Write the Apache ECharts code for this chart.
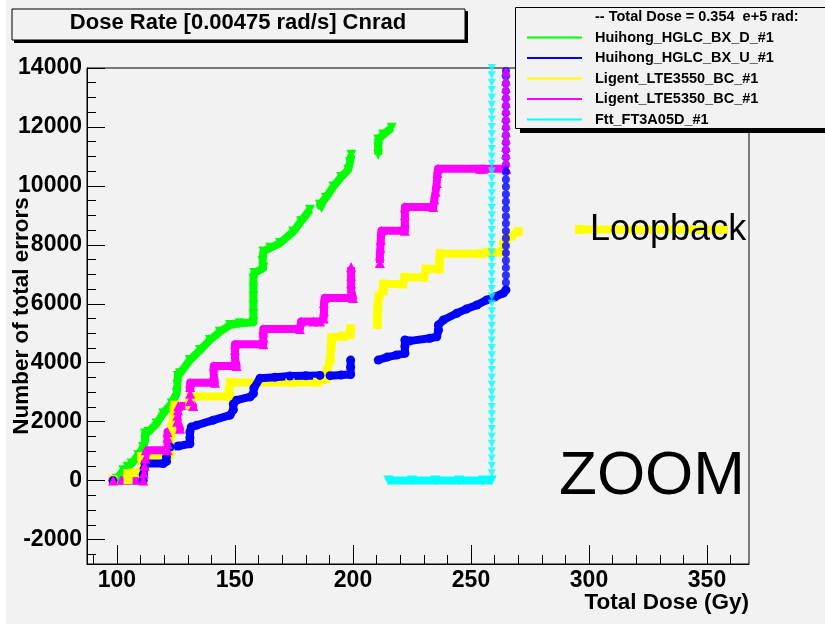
<!DOCTYPE html>
<html><head><meta charset="utf-8">
<script src="https://cdn.jsdelivr.net/npm/echarts@6.0.0/dist/echarts.min.js"></script>
<style>html,body{margin:0;padding:0;background:#fff;} #c{width:825px;height:624px;}</style>
</head><body><div id="c"></div>
<script>
// ---- data (x = Total Dose in Gy, y = Number of total errors) ----
const seriesNames = ['Huihong_HGLC_BX_D_#1','Huihong_HGLC_BX_U_#1','Ligent_LTE3550_BC_#1','Ligent_LTE5350_BC_#1','Ftt_FT3A05D_#1'];
const seriesColors = ['#00ff00','#0000ff','#ffff00','#ff00ff','#00ffff'];

const huihongD = [[100,60],[102.7,350],[104.5,470],[106.2,580],[109,860],[111.1,1140],[111.9,1350],[111.9,1600],[113.3,1650],[116.8,1940],[119.6,2280],[123.2,2620],[125.3,2960],[125.6,3250],[125.8,3550],[126.7,3640],[130.9,4090],[135.2,4430],[139.4,4770],[143.6,5050],[147.9,5280],[152,5340],[157.8,5370],[157.8,5650],[157.8,5950],[157.8,6250],[157.8,6550],[157.8,6850],[158.2,7040],[162,7210],[161.7,7450],[162,7770],[165,7900],[169.1,8060],[174.7,8450],[178,8800],[181.8,9190],[184,'-'],[186.7,9250],[186,9360],[188.5,9600],[191.7,9980],[195,10300],[198,10550],[198.7,10800],[199.3,11060],[205,'-'],[210.7,11060],[210.7,11300],[210.7,11570],[212.8,11740],[216.4,11970]];

const huihongU = [[98.3,0],[111.1,0],[111.1,200],[111.5,400],[111.9,580],[119.6,580],[121,650],[121,800],[122.5,1140],[126,1170],[130.9,1250],[130.9,1450],[130.9,1650],[131.5,1820],[133.8,1880],[140.8,2050],[147.9,2220],[149.3,2400],[149.3,2600],[150.7,2730],[156.4,2840],[157.8,2950],[158,3140],[160.6,3470],[167,3510],[173.3,3550],[180,3560],[186,3570],[190.3,3560],[195,3580],[199,3600],[199,3850],[199,4090],[205,'-'],[210.7,4090],[214.5,4190],[218.5,4260],[222,4320],[222,4550],[222,4770],[224.2,4740],[232.6,4830],[235.5,4880],[236.2,5100],[236.2,5280],[238.3,5450],[244,5680],[248,5820],[252.5,5960],[256.7,6130],[260,6230],[263.7,6360],[264.8,6470]];
const huihongUStackX = 264.8;
const huihongUStackY = [6720,6970,7220,7470,7720,7970,8220,8470,8720,8970,9220,9470,9720,9970,10220,10470,10720,10970,11220,11470,11720,11970,12220,12470,12720,12970,13220,13470,13720,13900];

const ligent3550 = [[98.3,30],[104.7,30],[104.7,240],[107.6,270],[110.5,270],[111,490],[111,630],[110.4,815],[121.7,815],[122.4,930],[122.4,1150],[122.4,1370],[123.2,1600],[123.2,1820],[124,2100],[124.2,2390],[124.6,2560],[130.9,2560],[131,2850],[147.9,2850],[147.5,3050],[148,3330],[173.3,3330],[185,3340],[188.5,3450],[189,3700],[190.3,4100],[190.8,4550],[191,4850],[196,4900],[198.7,4950],[199,5150],[205,'-'],[210.3,5300],[210.3,5600],[210.5,5900],[211,6250],[212.8,6450],[213,6670],[221,6670],[222,6900],[230,6900],[231,7180],[236.5,7180],[236.7,7460],[237,7700],[254.5,7700],[257,7750],[263.7,7750],[263.7,8000],[265,8200],[267,8300],[270,8450],[283,'-'],[296,8520],[357,8520]];

const ligent5350 = [[98.4,0],[111.1,0],[111.4,250],[111.7,500],[112,750],[112.2,1030],[121.5,1030],[121.4,1250],[121.4,1450],[121.4,1650],[126.7,1760],[125.5,2000],[125.6,2200],[125.8,2390],[126,2530],[132.3,2530],[131,2700],[131,2950],[131,3180],[131,3320],[141.5,3320],[141,3600],[141,3890],[150.7,3890],[150,4150],[150,4430],[150,4630],[162,4630],[162,4850],[162,5050],[162,5140],[177.5,5140],[178,5400],[183.2,5400],[186,5400],[187.6,5500],[187.7,5750],[187.7,6030],[188,6200],[200,6200],[199.2,6450],[199.2,6700],[199.2,6950],[199.2,7250],[205,'-'],[211.4,7380],[211.4,7650],[211.6,7900],[211.8,8170],[212,8480],[222,8480],[222,8750],[222,9000],[222,9280],[234,9280],[234.5,9550],[235,9800],[235.5,10100],[235.8,10440],[236,10580],[253.8,10580],[255.2,10580],[265,10580]];
const ligent5350StackX = 264.8;
const ligent5350StackY = [10830,11080,11330,11580,11830,12080,12330,12580,12830,13080,13330,13580,13880];

const fttBand = [[215,0],[225,0],[235,0],[245,0],[255,0],[258.8,0]];
const fttStackX = 258.8;
const fttStackY = [250,500,750,1000,1250,1500,1750,2000,2250,2500,2750,3000,3250,3500,3750,4000,4250,4500,4750,5000,5250,5500,5750,6000,6250,6500,6750,7000,7250,7500,7750,8000,8250,8500,8750,9000,9250,9500,9750,10000,10250,10500,10750,11000,11250,11500,11750,12000,12250,12500,12750,13000,13250,13500,13750,14000];

const xMajorTicks = [100,150,200,250,300,350];
const xMinorTicks = [90,110,120,130,140,160,170,180,190,210,220,230,240,260,270,280,290,310,320,330,340,360];
const yMajorTicks = [-2000,0,2000,4000,6000,8000,10000,12000,14000];
const yMinorTicks = [-2500,-1500,-1000,-500,500,1000,1500,2500,3000,3500,4500,5000,5500,6500,7000,7500,8500,9000,9500,10500,11000,11500,12500,13000,13500];

const titleText = 'Dose Rate [0.00475 rad/s] Cnrad';
const legendHeader = '-- Total Dose = 0.354  e+5 rad:';
const xTitle = 'Total Dose (Gy)';
const yTitle = 'Number of total errors';

// ---- chart ----
const FONT = '"Liberation Sans", Arial, Helvetica, sans-serif';
const X_MIN = 87.3, X_MAX = 367.8, Y_MIN = -2830, Y_MAX = 14000;
const chart = echarts.init(document.getElementById('c'), null, {renderer:'canvas'});

function lineSeries(name, data, color, symbol, size, rotate, join) {
  return {type:'line', name, data, symbol, symbolSize:size, symbolRotate:rotate, showSymbol:true,
    connectNulls:false, clip:false,
    lineStyle:{color, width:8, cap:'butt', join:join||'round'},
    itemStyle:{color, borderWidth:0}, emphasis:{disabled:true}, z:2};
}
function stackSeries(name, xv, ys, color, symbol, size, rotate) {
  return {type:'scatter', name, data: ys.map(v => [xv, v]), symbol, symbolSize:size, symbolRotate:rotate,
    itemStyle:{color, borderWidth:0}, emphasis:{disabled:true}, clip:false, z:3};
}

const axisLabelStyle = {fontFamily:FONT, fontWeight:'bold', fontSize:23, color:'#000', formatter: v => String(v)};

const option = {
  backgroundColor:'#f2f2f2',
  animation:false,
  grid:{left:87, top:68, width:662, height:496, show:true, borderColor:'#000', borderWidth:1, backgroundColor:'transparent', containLabel:false},
  xAxis:[
    {type:'value', min:X_MIN, max:X_MAX, position:'bottom',
     axisLine:{show:true, onZero:false, lineStyle:{color:'#000', width:1}},
     axisTick:{show:true, inside:true, length:19, customValues:xMajorTicks, lineStyle:{color:'#000'}},
     axisLabel:Object.assign({customValues:xMajorTicks, margin:5}, axisLabelStyle),
     splitLine:{show:false}},
    {type:'value', min:X_MIN, max:X_MAX, position:'bottom',
     axisLine:{show:false, onZero:false},
     axisTick:{show:true, inside:true, length:9, customValues:xMinorTicks, lineStyle:{color:'#000'}},
     axisLabel:{show:false}, splitLine:{show:false}}
  ],
  yAxis:[
    {type:'value', min:Y_MIN, max:Y_MAX, position:'left',
     axisLine:{show:true, onZero:false, lineStyle:{color:'#000', width:1}},
     axisTick:{show:true, inside:true, length:18, customValues:yMajorTicks, lineStyle:{color:'#000'}},
     axisLabel:Object.assign({customValues:yMajorTicks, margin:5}, axisLabelStyle),
     splitLine:{show:false}},
    {type:'value', min:Y_MIN, max:Y_MAX, position:'left',
     axisLine:{show:false, onZero:false},
     axisTick:{show:true, inside:true, length:9, customValues:yMinorTicks, lineStyle:{color:'#000'}},
     axisLabel:{show:false}, splitLine:{show:false}}
  ],
  legend:{data:seriesNames, orient:'vertical', left:527, top:29.5, padding:0, itemWidth:55, itemHeight:2, itemGap:4.5,
    icon:'rect', selectedMode:false, z:20,
    textStyle:{fontFamily:FONT, fontWeight:'bold', fontSize:14.5, color:'#000', lineHeight:16, padding:[0,0,0,8]}},
  series:[
    lineSeries(seriesNames[0], huihongD, seriesColors[0], 'triangle', 10, 180),
    lineSeries(seriesNames[2], ligent3550, seriesColors[2], 'rect', 9, 0, 'miter'),
    lineSeries(seriesNames[1], huihongU, seriesColors[1], 'circle', 9, 0),
    stackSeries(seriesNames[1], huihongUStackX, huihongUStackY, seriesColors[1], 'circle', 8, 0),
    lineSeries(seriesNames[3], ligent5350, seriesColors[3], 'triangle', 10, 0),
    stackSeries(seriesNames[3], ligent5350StackX, ligent5350StackY, seriesColors[3], 'triangle', 10, 0),
    lineSeries(seriesNames[4], fttBand, seriesColors[4], 'triangle', 10, 180),
    stackSeries(seriesNames[4], fttStackX, fttStackY, seriesColors[4], 'triangle', 8, 180)
  ],
  graphic:[
    {type:'rect', shape:{x:0, y:0, width:6, height:624}, style:{fill:'#fff'}, z:-1, silent:true},
    // title box with shadow
    {type:'rect', shape:{x:14, y:11, width:454, height:32}, style:{fill:'#000'}, z:10, silent:true},
    {type:'rect', shape:{x:12, y:9, width:453, height:31}, style:{fill:'#f2f2f2', stroke:'#000', lineWidth:1}, z:11, silent:true},
    {type:'text', x:238, y:23, style:{text:titleText, font:'bold 22px '+FONT, fill:'#000', textAlign:'center', textVerticalAlign:'middle'}, z:12, silent:true},
    // legend box with shadow
    {type:'rect', shape:{x:520, y:12, width:320, height:121}, style:{fill:'#000'}, z:10, silent:true},
    {type:'rect', shape:{x:515.5, y:7.5, width:320, height:121}, style:{fill:'#f2f2f2', stroke:'#000', lineWidth:1}, z:11, silent:true},
    {type:'text', x:595, y:17, style:{text:legendHeader, font:'bold 14.5px '+FONT, fill:'#000', textAlign:'left', textVerticalAlign:'middle'}, z:12, silent:true},
    // axis titles
    {type:'text', x:749, y:603, style:{text:xTitle, font:'bold 22.5px '+FONT, fill:'#000', textAlign:'right', textVerticalAlign:'middle'}, z:12, silent:true},
    {type:'text', x:22, y:316, rotation:Math.PI/2, style:{text:yTitle, font:'bold 22.5px '+FONT, fill:'#000', textAlign:'center', textVerticalAlign:'middle'}, z:12, silent:true},
    // annotations
    {type:'text', x:590, y:230, style:{text:'Loopback', font:'36px '+FONT, fill:'#000', textAlign:'left', textVerticalAlign:'middle'}, z:12, silent:true},
    {type:'text', x:652, y:477, style:{text:'ZOOM', font:'62px '+FONT, fill:'#000', textAlign:'center', textVerticalAlign:'middle'}, z:12, silent:true}
  ]
};
chart.setOption(option);
</script></body></html>
